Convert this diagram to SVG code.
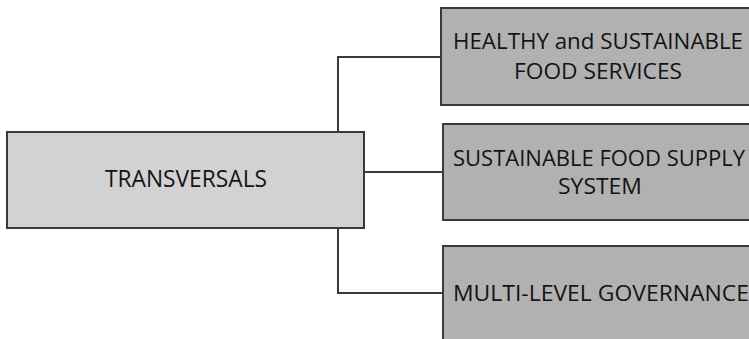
<svg xmlns="http://www.w3.org/2000/svg" width="749" height="339" viewBox="0 0 749 339">
<style>
.conn{fill:none;stroke:#3a3a3a;stroke-width:2}
.main{fill:#d2d2d2;stroke:#3a3a3a;stroke-width:2}
.sub{fill:#b1b1b1;stroke:#3a3a3a;stroke-width:2}
text{font-family:"Open Sans","Liberation Sans",sans-serif;fill:#141414;text-anchor:middle}
.t{font-size:21px}
.tm{font-size:23px}
</style>
<rect width="749" height="339" fill="#ffffff"/>
<g id="connectors">
<polyline class="conn" points="441,57 338,57 338,293 443,293"/>
<line class="conn" x1="364" y1="172" x2="443" y2="172"/>
</g>
<g id="transversals">
<rect class="main" x="7" y="132" width="357" height="96"/>
<text class="tm" x="186" y="187" textLength="162" lengthAdjust="spacingAndGlyphs">TRANSVERSALS</text>
</g>
<g id="healthy">
<rect class="sub" x="441" y="8" width="320" height="97"/>
<text class="t" x="598" y="49" textLength="290" lengthAdjust="spacingAndGlyphs">HEALTHY and SUSTAINABLE</text>
<text class="t" x="598" y="79" textLength="168" lengthAdjust="spacingAndGlyphs">FOOD SERVICES</text>
</g>
<g id="supply">
<rect class="sub" x="443" y="124" width="320" height="96"/>
<text class="t" x="599" y="166" textLength="292" lengthAdjust="spacingAndGlyphs">SUSTAINABLE FOOD SUPPLY</text>
<text class="t" x="600" y="194" textLength="84" lengthAdjust="spacingAndGlyphs">SYSTEM</text>
</g>
<g id="governance">
<rect class="sub" x="443" y="246" width="320" height="110"/>
<text class="t" x="601" y="301" textLength="296" lengthAdjust="spacingAndGlyphs">MULTI-LEVEL GOVERNANCE</text>
</g>
</svg>
